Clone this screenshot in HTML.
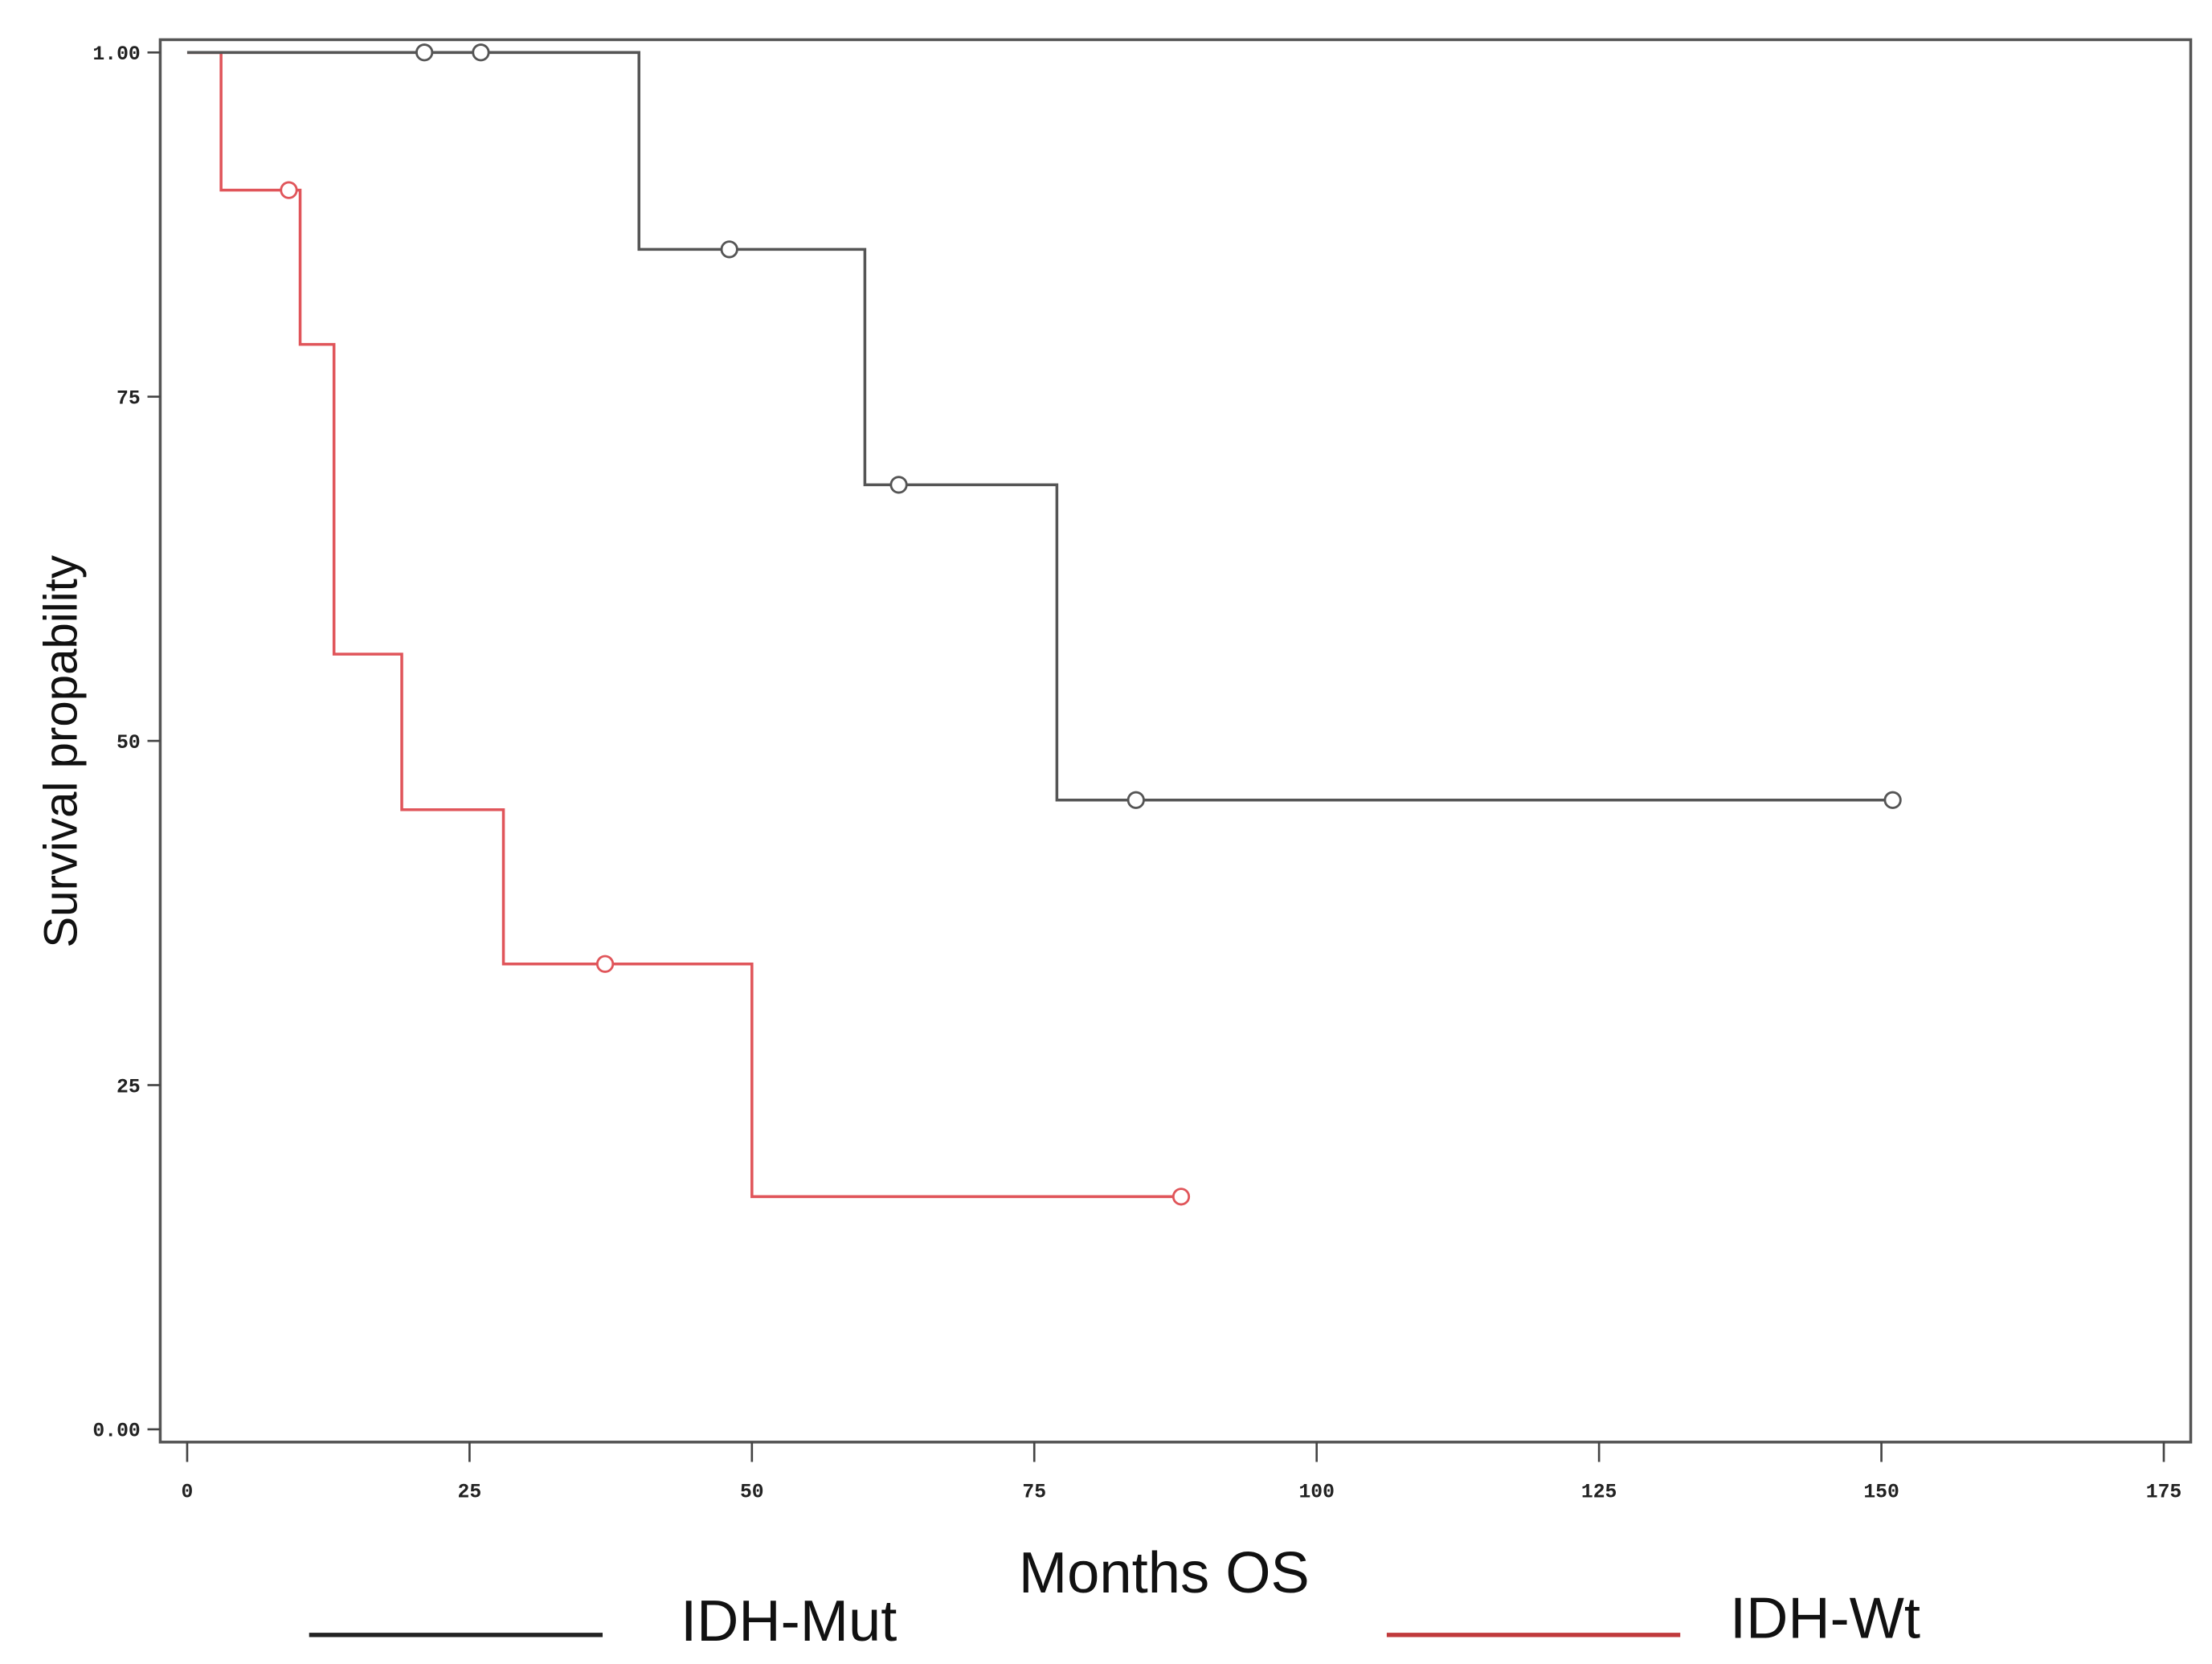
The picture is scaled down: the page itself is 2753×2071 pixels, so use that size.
<!DOCTYPE html>
<html><head><meta charset="utf-8"><style>html,body{margin:0;padding:0;background:#fff;}svg{display:block}</style></head>
<body>
<svg id="chart" width="2753" height="2071" viewBox="0 0 1560 1173.5" preserveAspectRatio="none" xmlns="http://www.w3.org/2000/svg">
<rect x="0" y="0" width="1560" height="1173.5" fill="#fff"/>
<rect x="113" y="28" width="1432" height="989" fill="none" stroke="#555" stroke-width="2"/>
<g id="axes"></g>
<g id="series"></g>
<text transform="translate(54,530) rotate(-90)" text-anchor="middle" font-family="Liberation Sans, sans-serif" font-size="33" fill="#111">Survival propability</text>
<text x="821" y="1123" text-anchor="middle" font-family="Liberation Sans, sans-serif" font-size="41" fill="#111">Months OS</text>
<g>
<line x1="218" y1="1153" x2="425" y2="1153" stroke="#222" stroke-width="3"/>
<text x="480" y="1157" font-family="Liberation Sans, sans-serif" font-size="41" fill="#111">IDH-Mut</text>
<line x1="978" y1="1153" x2="1185" y2="1153" stroke="#c0393b" stroke-width="3"/>
<text x="1220" y="1155" font-family="Liberation Sans, sans-serif" font-size="41" fill="#111">IDH-Wt</text>
</g>
</svg>
<script>
const xTicks = [0,25,50,75,100,125,150,175];
const yTicks = [0,0.25,0.5,0.75,1];
const yTickLabels = ["0.00","25","50","75","1.00"];
const mutTimes = [0,40,60,77,151];
const mutSurv = [1.0,0.857,0.686,0.457,0.457];
const mutCensorT = [21,26,48,63,84,151];
const mutCensorS = [1.0,1.0,0.857,0.686,0.457,0.457];
const wtTimes = [0,3,10,13,19,28,50,88];
const wtSurv = [1.0,0.9,0.788,0.563,0.45,0.338,0.169,0.169];
const wtCensorT = [9,37,88];
const wtCensorS = [0.9,0.338,0.169];

const NS="http://www.w3.org/2000/svg";
function sx(v){return 132+v*(1526-132)/175;}
function sy(v){return 1008-v*(1008-37);}
const axes=document.getElementById('axes');
const series=document.getElementById('series');
function mk(tag,attrs,parent){const e=document.createElementNS(NS,tag);for(const k in attrs)e.setAttribute(k,attrs[k]);parent.appendChild(e);return e;}
xTicks.forEach((t)=>{
  const l=mk('line',{x1:sx(t),x2:sx(t),y1:1017,y2:1031,stroke:'#444','stroke-width':1.5},axes);
  
  
  const tx=mk('text',{x:sx(t),y:1056,'text-anchor':'middle','font-family':'Liberation Mono, monospace','font-weight':'bold','font-size':14,fill:'#222'},axes);
  tx.textContent=String(t);
  
  
});
yTicks.forEach((t,i)=>{
  const l=mk('line',{x1:104,x2:113,y1:sy(t),y2:sy(t),stroke:'#444','stroke-width':1.5},axes);
  
  
  const tx=mk('text',{x:99,y:sy(t)+5,'text-anchor':'end','font-family':'Liberation Mono, monospace','font-weight':'bold','font-size':14,fill:'#222'},axes);
  tx.textContent=yTickLabels[i];
  
  
});
function stepPath(T,S){let d='M'+sx(T[0])+','+sy(S[0]);for(let i=1;i<T.length;i++){d+=' H'+sx(T[i])+' V'+sy(S[i]);}return d;}
function drawSeries(T,S,CT,CS,color,name){
  const p=mk('path',{d:stepPath(T,S),fill:'none',stroke:color,'stroke-width':2},series);
  
  
  CT.forEach((t,i)=>{
    const c=mk('circle',{cx:sx(t),cy:sy(CS[i]),r:5.5,fill:'#fff',stroke:color,'stroke-width':1.6},series);
    
    
  });
}
drawSeries(wtTimes,wtSurv,wtCensorT,wtCensorS,'#e0555a','idh-wt');
drawSeries(mutTimes,mutSurv,mutCensorT,mutCensorS,'#555','idh-mut');
</script>
</body></html>
